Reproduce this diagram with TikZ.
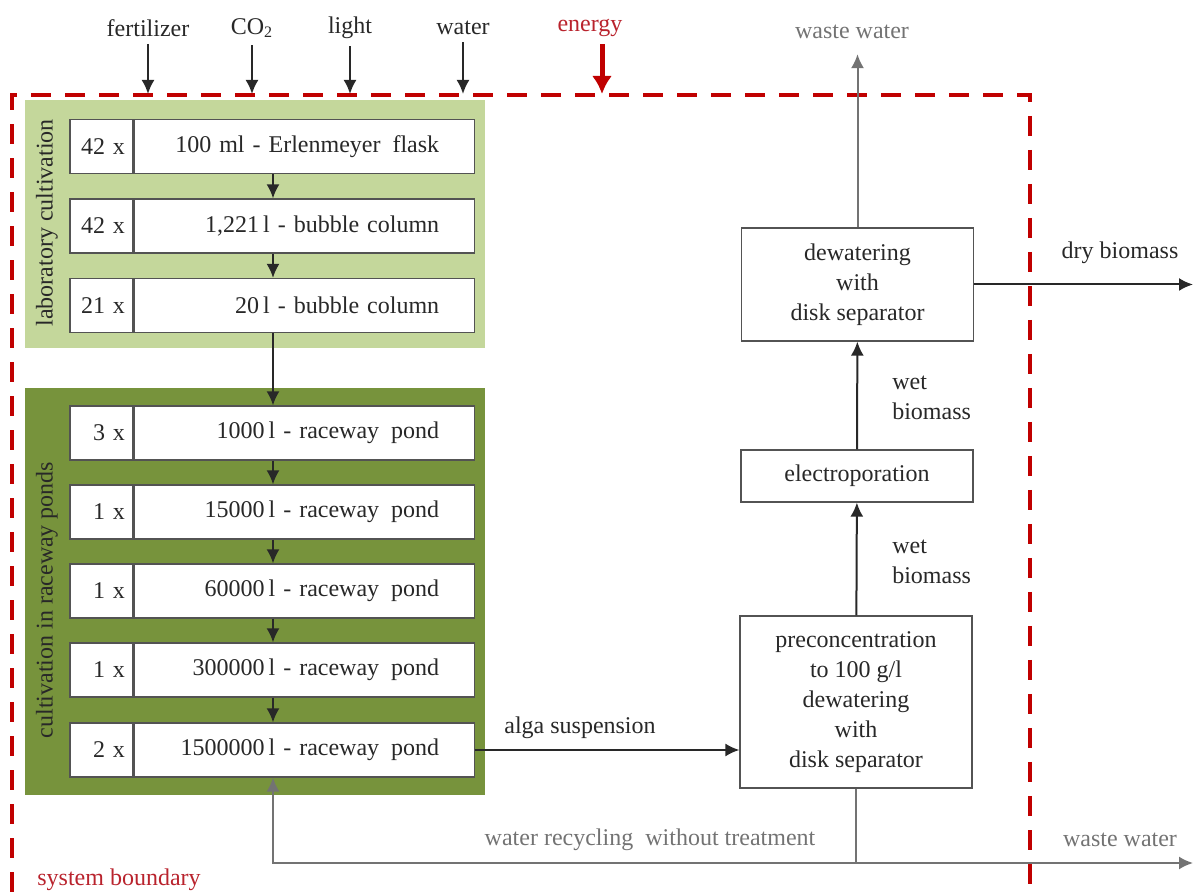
\documentclass[tikz,border=0pt]{standalone}
\usepackage{fontspec}
\setmainfont{Liberation Serif}
\usetikzlibrary{arrows.meta}
\definecolor{bnd}{RGB}{192,0,0}
\definecolor{bndtxt}{RGB}{185,35,45}
\definecolor{labgreen}{RGB}{196,215,155}
\definecolor{pondgreen}{RGB}{119,147,60}
\definecolor{ink}{RGB}{40,40,40}
\definecolor{waste}{RGB}{115,115,115}

\begin{document}
\begin{tikzpicture}[x=0.5pt,y=-0.5pt,semithick,font=\fontsize{12}{15}\selectfont,
 >={Latex[length=7pt,width=6.5pt]},
 cnt/.style={draw=ink!80,fill=white,text=ink,minimum height=27pt,text width=23.5pt,inner xsep=4pt,align=right},
 stage/.style={draw=ink!80,fill=white,text=ink,minimum height=27pt,text width=135pt,inner xsep=17.5pt,align=right,anchor=west},
 unit/.style={draw=ink!80,fill=white,text=ink,minimum width=116pt,align=center},
 flow/.style={->,line width=1pt,ink},
 wflow/.style={->,line width=1pt,waste}]
\useasboundingbox (0,0) rectangle (1195,892);
\draw[bnd,line width=2pt,dash pattern=on 10pt off 7pt](12,892)--(12,95)--(1030,95)--(1030,892);
\coordinate(bndtop)at(0,94);\coordinate(mid)at(273,0);
\fill[labgreen](25,100)rectangle(485,348);
\fill[pondgreen](25,388)rectangle(485,795);
\node[rotate=90,text=ink](lab)at(47,223){laboratory cultivation};
\node[rotate=90,text=ink](pond)at(47,600){cultivation in raceway ponds};
\node[cnt](nL1)at(101.5,146.5){42 x};\node[stage](L1)at(nL1.east){100 ml - Erlenmeyer\enspace flask};
\node[cnt](nL2)at(101.5,226){42 x};\node[stage](L2)at(nL2.east){1,221\,l - bubble column};
\node[cnt](nL3)at(101.5,305.5){21 x};\node[stage](L3)at(nL3.east){20\,l - bubble column};
\node[cnt](nP1)at(101.5,433){3 x};\node[stage](P1)at(nP1.east){1000\,l - raceway\enspace pond};
\node[cnt](nP2)at(101.5,512){1 x};\node[stage](P2)at(nP2.east){15000\,l - raceway\enspace pond};
\node[cnt](nP3)at(101.5,591){1 x};\node[stage](P3)at(nP3.east){60000\,l - raceway\enspace pond};
\node[cnt](nP4)at(101.5,670){1 x};\node[stage](P4)at(nP4.east){300000\,l - raceway\enspace pond};
\node[cnt](nP5)at(101.5,750){2 x};\node[stage](P5)at(nP5.east){1500000\,l - raceway\enspace pond};
\draw[flow](L1.south-|mid)--(L2.north-|mid);\draw[flow](L2.south-|mid)--(L3.north-|mid);
\draw[flow](L3.south-|mid)--(P1.north-|mid);\draw[flow](P1.south-|mid)--(P2.north-|mid);
\draw[flow](P2.south-|mid)--(P3.north-|mid);\draw[flow](P3.south-|mid)--(P4.north-|mid);
\draw[flow](P4.south-|mid)--(P5.north-|mid);
\node[unit,minimum height=56.5pt](dew)at(857.5,284.5){dewatering\\with\\disk separator};
\node[unit,minimum height=26pt](elec)at(857,476){electroporation};
\node[unit,minimum height=86pt](pre)at(856,702){preconcentration\\to 100 g/l\\dewatering\\with\\disk separator};
\draw[flow](pre)--(elec);\draw[flow](elec)--(dew);
\node[text=ink,anchor=west,align=left](wet1)at(885,398){wet\\biomass};
\node[text=ink,anchor=west,align=left](wet2)at(885,562){wet\\biomass};
\draw[flow](P5.east)--(P5.east-|pre.west);
\node[text=ink](alga)at(580,728){alga suspension};
\coordinate(dryend)at(1193,283);\coordinate(wwend)at(1193,863);
\draw[flow](dew.east)--(dew.east-|dryend);
\node[text=ink](dry)at(1120,253){dry biomass};
\node[text=waste](wwtop)at(852,32){waste water};
\draw[wflow,shorten >=4pt](dew.north)--(dew.north|-wwtop.south);
\draw[line width=1pt,waste](pre.south)--(pre.south|-wwend);
\draw[wflow](pre.south|-wwend)--(wwend);
\draw[wflow](pre.south|-wwend)-|(P5.south-|mid);
\node[text=waste](rec)at(650,840){water recycling\enspace without treatment};
\node[text=waste](wwbot)at(1120,840){waste water};
\node[text=bndtxt](sysb)at(119,880){system boundary};
\node[text=ink](fert)at(148,28){fertilizer};
\node[text=ink](co2)at(252,28){CO\textsubscript{2}};
\node[text=ink](light)at(350,28){light};
\node[text=ink](water)at(463,28){water};
\node[text=bndtxt](energy)at(590,28){energy};
\draw[flow](fert.south)--(fert.south|-bndtop);\draw[flow](co2.south)--(co2.south|-bndtop);
\draw[flow](light.south)--(light.south|-bndtop);\draw[flow](water.south)--(water.south|-bndtop);
\coordinate(en)at(602,94);
\draw[bnd,line width=2.5pt,-{Latex[length=9pt,width=10pt]}](energy.south-|en)--(en);
\end{tikzpicture}
\end{document}
